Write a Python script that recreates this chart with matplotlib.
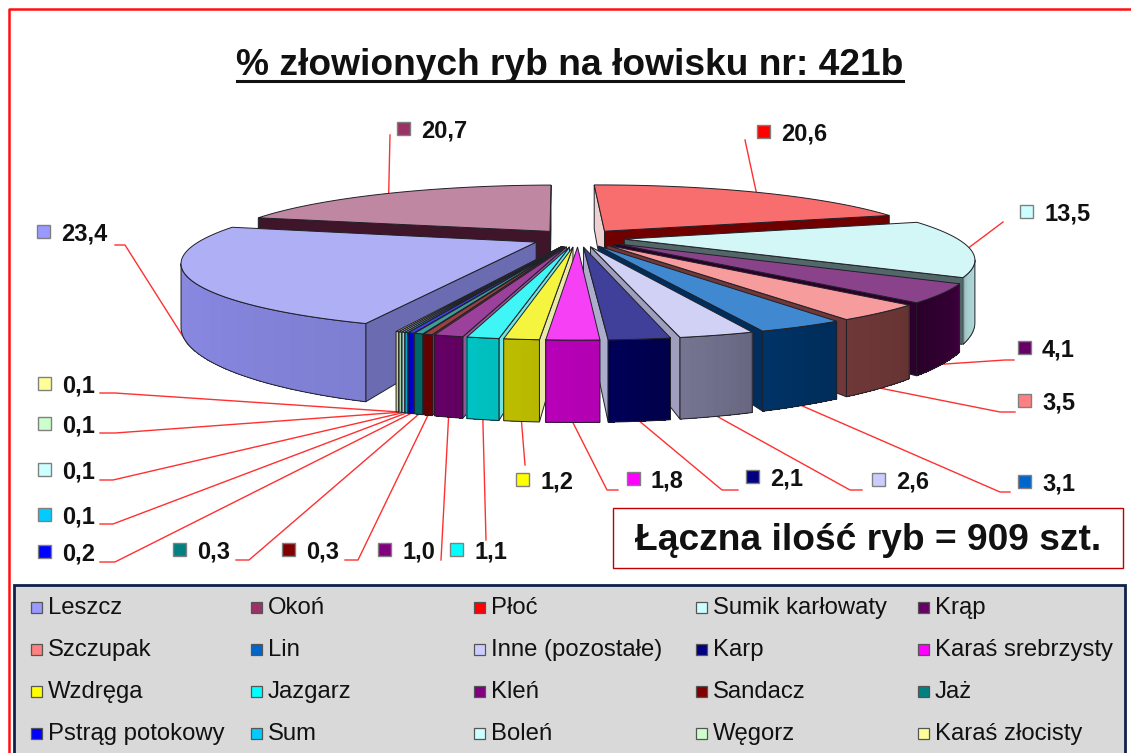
import numpy as np
import matplotlib
matplotlib.use("Agg")
import matplotlib.pyplot as plt
from matplotlib.patches import Polygon, Rectangle
from matplotlib.colors import to_rgb

species = ["Leszcz", "Okoń", "Płoć", "Sumik karłowaty", "Krąp", "Szczupak", "Lin",
           "Inne (pozostałe)", "Karp", "Karaś srebrzysty", "Wzdręga", "Jazgarz", "Kleń",
           "Sandacz", "Jaż", "Pstrąg potokowy", "Sum", "Boleń", "Węgorz", "Karaś złocisty"]
percent = [23.4, 20.7, 20.6, 13.5, 4.1, 3.5, 3.1, 2.6, 2.1, 1.8, 1.2, 1.1, 1.0,
           0.3, 0.3, 0.2, 0.1, 0.1, 0.1, 0.1]
colors = ["#9999FF", "#993366", "#FF0000", "#CCFFFF", "#660066", "#FF8080", "#0066CC",
          "#CCCCFF", "#000080", "#FF00FF", "#FFFF00", "#00FFFF", "#800080",
          "#800000", "#008080", "#0000FF", "#00CCFF", "#CCFFFF", "#CCFFCC", "#FFFF99"]
title = "% złowionych ryb na łowisku nr: 421b"
total_text = "Łączna ilość ryb = 909 szt."

# label layout: marker x, marker y, elbow start x, elbow end x, elbow y
label_layout = [
    (43, 231, 115, 125, 245), (403, 128, 390, 390, 135), (763, 131, 745, 745, 140),
    (1026, 211, 1003, 1003, 222), (1024, 347, 1014, 1005, 360), (1024, 400, 1015, 1000, 412),
    (1024, 481, 1010, 1000, 492), (878, 479, 862, 850, 490), (752, 476, 738, 722, 490),
    (633, 478, 618, 607, 490), (522, 479, 525, 525, 465), (456, 549, 486, 486, 540),
    (384, 549, 441, 441, 560), (288, 549, 345, 358, 560), (179, 549, 236, 249, 560),
    (44, 551, 100, 115, 562), (44, 514, 100, 113, 524), (44, 469, 100, 113, 480),
    (44, 423, 100, 115, 433), (44, 383, 100, 115, 393),
]

FONT = "Liberation Sans"
plt.rcParams["font.family"] = FONT
fig = plt.figure(figsize=(11.31, 7.53), dpi=100)
ax = fig.add_axes([0, 0, 1, 1])
ax.set_xlim(0, 1131)
ax.set_ylim(753, 0)
ax.axis("off")

# perspective model of the exploded pie
CX, CY, RX, A, H, K, EXPL = 578, 238, 332, 62, 57, 0.27, 0.14
START = 200.0


def project(x, t, z):
    s = 1 / (1 - K * t)
    return CX + RX * x * s, CY + (A * t + H * z) * s


def mix(base, f, m):
    return tuple(min(1, c * f + m) for c in to_rgb(base))


def radial_shade(nx):
    tx = [-1, -.999, -.985, -.943, -.5, 0, .5, .94, .99, .9976, 1]
    tf = [.08, .25, .6, .45, .4, .42, .45, .7, .45, .28, .08]
    tm = [.85, .68, .15, 0, 0, 0, 0, 0, .44, .63, .85]
    return np.interp(nx, tx, tf), np.interp(nx, tx, tm)


def outer_shade(th):
    th = th % 360
    tt = [60, 105, 120, 123, 137, 150, 160, 170, 178, 184, 190, 200, 235, 258, 268, 290]
    tf = [.85, .85, .75, .55, .4, .44, .5, .58, .7, .72, .75, .82, .88, .8, .55, .5]
    tm = [.05, .05, .05, 0, 0, 0, 0, 0, 0, 0, 0, 0, 0, .06, .42, .45]
    return np.interp(th, tt, tf), np.interp(th, tt, tm)


def visible(p, q, r, s):
    pts = np.array([p, q, r, s])
    xx, yy = pts[:, 0], pts[:, 1]
    return np.sum(xx * np.roll(yy, -1) - np.roll(xx, -1) * yy) < 0


vals = np.array(percent)
edges = START + np.concatenate([[0], np.cumsum(vals)]) / vals.sum() * 360
slices = []
for i in range(len(vals)):
    a0, a1 = edges[i], edges[i + 1]
    mid = np.radians((a0 + a1) / 2)
    ox, ot = EXPL * np.sin(mid), -EXPL * np.cos(mid)
    slices.append((-np.cos(mid), i, a0, a1, ox, ot))
slices.sort()

EDGE = "#202028"
anchors = {}
for key, i, a0, a1, ox, ot in slices:
    base = colors[i]
    n = max(2, int((a1 - a0) / 1.0) + 1)
    th = np.linspace(a0, a1, n)
    xs = ox + np.sin(np.radians(th))
    ts = ot - np.cos(np.radians(th))
    top = [project(ox, ot, 0)] + [project(x, t, 0) for x, t in zip(xs, ts)]
    bot = [project(ox, ot, 1)] + [project(x, t, 1) for x, t in zip(xs, ts)]

    for idx0, idx1, ang, sign in [(0, 1, a0, -90), (-1, 0, a1, 90)]:
        p, q, r, s = top[idx0], top[idx1], bot[idx1], bot[idx0]
        if visible(p, q, r, s):
            nx = np.sin(np.radians(ang + sign))
            f, m = radial_shade(nx)
            ax.add_patch(Polygon([p, q, r, s], closed=True, fc=mix(base, f, m), ec=EDGE, lw=0.7, zorder=2))
    vis_any = [j for j in range(1, len(top) - 1)
               if visible(top[j], top[j + 1], bot[j + 1], bot[j])]
    for j in vis_any:
        # each strip reaches over its neighbour so no seams show between them
        k = min(j + 2, len(top) - 1) if j + 1 in vis_any else j + 1
        f, m = outer_shade((th[j - 1] + th[j]) / 2)
        ax.add_patch(Polygon([top[j], top[k], bot[k], bot[j]], closed=True, fc=mix(base, f, m),
                             ec="none", lw=0, antialiased=False, zorder=2))
    if vis_any:
        j0, j1 = vis_any[0], vis_any[-1] + 1
        outline = top[j0:j1 + 1] + bot[j0:j1 + 1][::-1]
        ax.add_patch(Polygon(outline, closed=True, fc="none", ec=EDGE, lw=0.7, zorder=2))
    a = 0.28 - 0.18 * key if key < 0 else 0.28 - 0.03 * key
    rgb = to_rgb(base)
    ax.add_patch(Polygon(top, closed=True, fc=tuple(c * (1 - a) * 0.95 + a for c in rgb), ec=EDGE, lw=0.7, zorder=2))
    mid_th = np.radians((a0 + a1) / 2)
    ax_x, ax_t = ox + np.sin(mid_th), ot - np.cos(mid_th)
    anchors[i] = project(ax_x, ax_t, 1 if ax_t > 0.3 else 0)

# labels
RED = "#FF3030"
for i, (mx, my, ex0, ex1, ey) in enumerate(label_layout):
    tx, ty = anchors[i]
    ax.plot([ex0, ex1, tx], [ey, ey, ty], color=RED, lw=1.0, zorder=1, solid_joinstyle="round")
    ax.add_patch(Rectangle((mx - 6.5, my - 6.5), 13, 13, fc=colors[i], ec="#808080", lw=1, zorder=3))
    ax.text(mx + 18, my + 3, f"{percent[i]:.1f}".replace(".", ","), fontsize=17, fontweight="bold",
            ha="left", va="center", zorder=3, color="#111111")

# title
ax.text(570, 65, title, fontsize=26.7, fontweight="bold", ha="center", va="center", color="#111111")
ax.plot([237, 903], [81, 81], color="#111111", lw=2.2)

# total box
ax.add_patch(Rectangle((613, 508), 510, 60, fc="white", ec="#C00000", lw=1, zorder=3))
ax.text(868, 540, total_text, fontsize=26.7, fontweight="bold", ha="center", va="center", zorder=4, color="#111111")

# outer frame: left and top only
ax.plot([9, 9, 1131], [753, 9, 9], color="#FF1010", lw=1.8)

# legend panel
ax.add_patch(Rectangle((14, 585), 1111, 180, fc="#D9D9D9", ec="#10204A", lw=2, zorder=3))
col_x = [36, 256, 479, 701, 923]
row_y = [607, 649, 691, 733]
for i, name in enumerate(species):
    r, c = divmod(i, 5)
    ax.add_patch(Rectangle((col_x[c] - 5.5, row_y[r] - 5.5), 11, 11, fc=colors[i], ec="#555555", lw=0.9, zorder=4))
    ax.text(col_x[c] + 12, row_y[r] + 1, name, fontsize=17.2, ha="left", va="center", zorder=4, color="#111111")

fig.savefig("out.png", dpi=100)
